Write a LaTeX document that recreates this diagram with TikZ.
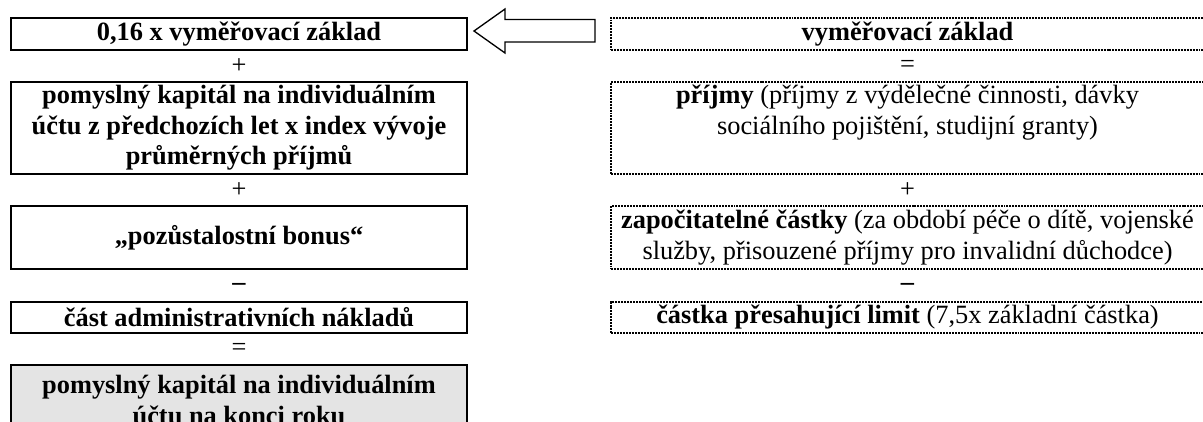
\documentclass[tikz,border=0pt]{standalone}
\usepackage{fontspec}
\setmainfont{Liberation Serif}
\definecolor{vysledek}{HTML}{E4E4E4}
\tikzset{
  % pevny ramecek vlevo
  levy/.style={draw=black, line width=0.85pt, minimum width=207.5pt, inner sep=0pt,
    align=center, font=\fontsize{12}{13.8}\selectfont\bfseries},
  % teckovany ramecek vpravo
  pravy/.style={draw=black, line width=0.55pt, dash pattern=on 0.9pt off 0.45pt,
    minimum width=269.8pt, inner sep=0pt, align=center, font=\fontsize{12}{13.8}\selectfont},
  % text bez ramecku
  popis/.style={inner sep=0pt, align=center, font=\fontsize{12}{13.8}\selectfont},
  % znamenko mezi rameckama
  znak/.style={inner sep=0pt, font=\fontsize{12}{13.8}\selectfont},
  % blokova sipka
  blok/.style={draw=black, line width=0.6pt, fill=white, line join=miter},
}
\begin{document}
\begin{tikzpicture}[x=0.455pt, y=-0.455pt]
  \useasboundingbox (0,0) rectangle (1203,421);
  \clip (0,0) rectangle (1203,421);
  % levy sloupec
  \node[levy, minimum height=14.56pt] (L1) at (239,34) {0,16 x vyměřovací základ};
  \node[znak] (Lplus1) at (239,66) {+};
  \node[levy, minimum height=41.86pt] (L2) at (239,128) {pomyslný kapitál na individuálním\\ účtu z předchozích let x index vývoje\\ průměrných příjmů};
  \node[znak] (Lplus2) at (239,190) {+};
  \node[levy, minimum height=28.67pt] (L3) at (239,237.5) {„pozůstalostní bonus“};
  \node[znak, font=\fontsize{12}{13.8}\selectfont\bfseries] (Lminus) at (239,287) {–};
  \node[levy, minimum height=14.1pt] (L4) at (239,317.5) {část administrativních nákladů};
  \node[znak] (Lrovno) at (239,349) {=};
  \node[levy, fill=vysledek, minimum height=40pt] (L5) at (239,409) {};
  \node[popis, font=\fontsize{12}{13.8}\selectfont\bfseries, anchor=north] (L5text) at ([yshift=-5pt]L5.north) {pomyslný kapitál na individuálním\\ účtu na konci roku};
  % pravy sloupec
  \node[pravy, minimum height=14.56pt] (R1) at (907.5,34) {\textbf{vyměřovací základ}};
  \node[znak] (Rrovno) at (907.5,66) {=};
  \node[pravy, minimum height=41.86pt] (R2) at (907.5,128) {};
  \node[popis, anchor=north] (R2text) at ([yshift=-1.5pt]R2.north) {\textbf{příjmy} (příjmy z výdělečné činnosti, dávky\\ sociálního pojištění, studijní granty)};
  \node[znak] (Rplus) at (907.5,190) {+};
  \node[pravy, minimum height=28.67pt] (R3) at (907.5,237.5) {\textbf{započitatelné částky} (za období péče o dítě, vojenské\\ služby, přisouzené příjmy pro invalidní důchodce)};
  \node[znak, font=\fontsize{12}{13.8}\selectfont\bfseries] (Rminus) at (907.5,287) {–};
  \node[pravy, minimum height=14.1pt] (R4) at (907.5,317.5) {\textbf{částka přesahující limit} (7,5x základní částka)};
  % sipka z prava doleva
  \draw[blok] (474,31) -- (505,9) -- (505,19.5) -- (595,19.5) -- (595,42)
    -- (505,42) -- (505,53) -- cycle;
\end{tikzpicture}
\end{document}
